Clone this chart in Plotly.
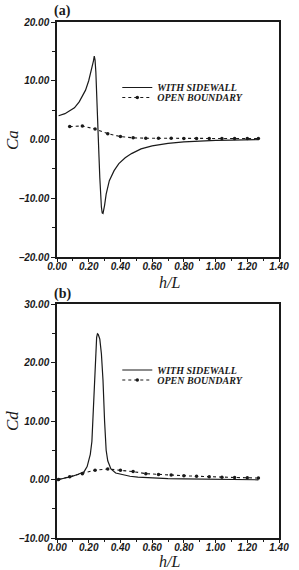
import plotly.graph_objects as go

# ---------------- data ----------------
# (a) added-mass coefficient Ca
ca_side_x = [0.01, 0.05, 0.08, 0.11, 0.14, 0.16, 0.18, 0.20, 0.21, 0.22, 0.23, 0.235,
             0.24, 0.245, 0.25, 0.255, 0.26, 0.265, 0.27, 0.275, 0.28, 0.285, 0.29,
             0.30, 0.31, 0.33, 0.36, 0.39, 0.43, 0.47, 0.53, 0.60, 0.70, 0.80, 0.90,
             1.00, 1.10, 1.20, 1.27]
ca_side_y = [4.05, 4.4, 4.9, 5.4, 6.4, 7.3, 8.4, 10.0, 11.0, 12.1, 13.4, 14.2,
             13.5, 11.5, 8.5, 5.0, 1.0, -3.0, -6.5, -9.5, -11.5, -12.5, -12.6,
             -11.2, -9.3, -7.0, -5.3, -4.1, -3.1, -2.4, -1.6, -1.1, -0.65, -0.4, -0.25,
             -0.15, -0.1, -0.05, -0.03]
ca_open_x = [0.08, 0.16, 0.24, 0.32, 0.40, 0.48, 0.56, 0.64, 0.72, 0.80, 0.88, 0.96,
             1.04, 1.12, 1.20, 1.27]
ca_open_y = [2.2, 2.3, 1.8, 1.0, 0.5, 0.28, 0.22, 0.2, 0.2, 0.18, 0.18, 0.16,
             0.16, 0.15, 0.15, 0.15]

# (b) damping coefficient Cd
cd_side_x = [0.01, 0.05, 0.09, 0.13, 0.17, 0.19, 0.21, 0.22, 0.23, 0.24, 0.245, 0.25,
             0.255, 0.26, 0.265, 0.27, 0.28, 0.29, 0.30, 0.31, 0.32, 0.34, 0.37, 0.41,
             0.46, 0.51, 0.60, 0.70, 0.80, 0.90, 1.00, 1.10, 1.20, 1.27]
cd_side_y = [0.0, 0.2, 0.5, 0.85, 1.3, 2.2, 4.3, 6.5, 12.0, 20.0, 22.8, 24.3,
             24.9, 24.8, 24.4, 24.0, 21.5, 17.0, 10.0, 5.0, 3.2, 1.8, 1.1, 0.8,
             0.55, 0.4, 0.25, 0.15, 0.1, 0.05, 0.02, 0.0, -0.05, -0.05]
cd_open_x = [0.01, 0.08, 0.16, 0.24, 0.32, 0.40, 0.48, 0.56, 0.64, 0.72, 0.80, 0.88,
             0.96, 1.04, 1.12, 1.20, 1.27]
cd_open_y = [0.0, 0.45, 1.0, 1.6, 1.8, 1.6, 1.35, 1.0, 0.85, 0.75, 0.65, 0.55,
             0.45, 0.4, 0.35, 0.3, 0.25]

series_names = ["WITH SIDEWALL", "OPEN BOUNDARY"]
x_ticks = [0.0, 0.2, 0.4, 0.6, 0.8, 1.0, 1.2, 1.4]
ca_ticks = [-20, -10, 0, 10, 20]
cd_ticks = [-10, 0, 10, 20, 30]

# ---------------- figure ----------------
W, H = 299, 570
L, R, T, B = 57, 10, 22, 32
PH = H - T - B


def py(p):  # pixel y -> paper y
    return (H - B - p) / PH


def px(p):  # pixel x -> paper x
    return (p - L) / (W - L - R)


ink = "#1a1a1a"
tickfont = dict(family="Liberation Sans", size=10, color=ink, weight="bold", style="italic")
legfont = dict(family="Liberation Serif", size=10, color=ink, weight="bold", style="italic")

fig = go.Figure()

def add_pair(xs, ys, xo, yo, xa, ya, lg1, lg2):
    fig.add_trace(go.Scatter(x=xs, y=ys, mode="lines", name=series_names[0],
                             line=dict(color=ink, width=1.2), xaxis=xa, yaxis=ya,
                             legend=lg1))
    fig.add_trace(go.Scatter(x=xo, y=yo, mode="lines+markers", name=series_names[1],
                             line=dict(color=ink, width=1.1, dash="dot"),
                             marker=dict(symbol="circle", size=3.5, color=ink),
                             xaxis=xa, yaxis=ya, legend=lg2))

add_pair(ca_side_x, ca_side_y, ca_open_x, ca_open_y, "x", "y", "legend", "legend2")
add_pair(cd_side_x, cd_side_y, cd_open_x, cd_open_y, "x2", "y2", "legend3", "legend4")

axis_common = dict(showline=True, linecolor=ink, linewidth=1.5, mirror=True,
                   ticks="outside", ticklen=4, tickwidth=1.2, tickcolor=ink,
                   showgrid=False, zeroline=False, tickfont=tickfont,
                   tickformat=".2f")

xaxis_common = dict(axis_common, range=[0, 1.4], tickvals=x_ticks, ticklen=3,
                    ticklabelstandoff=-4,
                    minor=dict(dtick=0.1, ticklen=2, tickcolor=ink, ticks="outside"))

fig.update_layout(
    width=W, height=H,
    margin=dict(l=L, r=R, t=T, b=B),
    paper_bgcolor="white", plot_bgcolor="white",
    xaxis=dict(xaxis_common, domain=[0, 1], anchor="y"),
    yaxis=dict(axis_common, domain=[py(257), 1.0], range=[-20, 20], tickvals=ca_ticks,
               minor=dict(dtick=5, ticklen=3, tickcolor=ink, ticks="outside"), anchor="x"),
    xaxis2=dict(xaxis_common, domain=[0, 1], anchor="y2"),
    yaxis2=dict(axis_common, domain=[0, py(304)], range=[-10, 30], tickvals=cd_ticks,
                minor=dict(dtick=5, ticklen=3, tickcolor=ink, ticks="outside"), anchor="x2"),
    showlegend=True,
)

leg = dict(font=legfont, bgcolor="rgba(0,0,0,0)", borderwidth=0,
           xanchor="left", yanchor="middle", itemwidth=30, tracegroupgap=0)
fig.update_layout(
    legend=dict(leg, x=px(120), y=py(87.5)),
    legend2=dict(leg, x=px(120), y=py(97.5)),
    legend3=dict(leg, x=px(120), y=py(370)),
    legend4=dict(leg, x=px(120), y=py(380)),
)

serif_it = dict(family="Liberation Serif", size=17, color=ink, style="italic")
annots = [
    dict(text="(a)", x=px(63), y=py(11), font=dict(family="Liberation Serif", size=14,
                                                  color=ink, weight="bold")),
    dict(text="(b)", x=px(63), y=py(294), font=dict(family="Liberation Serif", size=14,
                                                   color=ink, weight="bold")),
    dict(text="Ca", x=px(10), y=py(140), textangle=-90, font=serif_it),
    dict(text="Cd", x=px(10), y=py(421), textangle=-90, font=serif_it),
    dict(text="h/L", x=px(175), y=py(282), font=dict(serif_it, size=16)),
    dict(text="h/L", x=px(175), y=py(561), font=dict(serif_it, size=16)),
]
for a in annots:
    fig.add_annotation(xref="paper", yref="paper", showarrow=False,
                       xanchor="center", yanchor="middle", **a)

fig.write_html("out.html")
